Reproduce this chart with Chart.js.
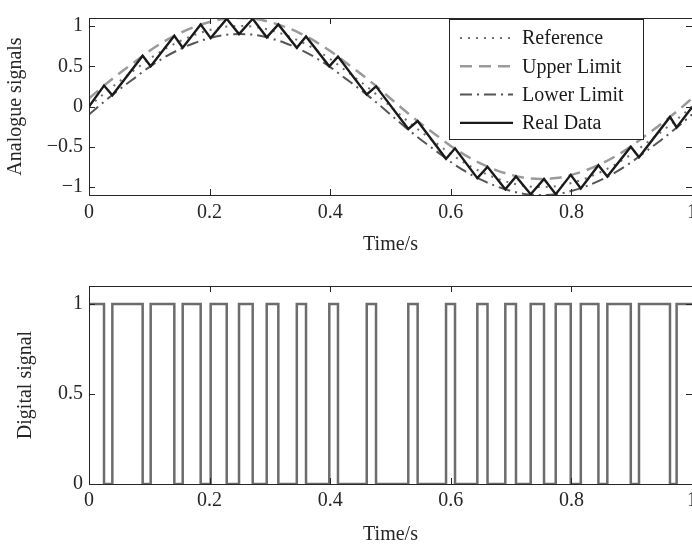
<!DOCTYPE html>
<html>
<head>
<meta charset="utf-8">
<title>Analogue signals / Digital signal</title>
<script src="https://cdn.jsdelivr.net/npm/chart.js@4.4.1/dist/chart.umd.min.js"></script>
<style>
  html, body { margin: 0; padding: 0; background: #fff; overflow: hidden; }
  #wrap { position: relative; width: 692px; height: 545px; overflow: hidden; background: #fff; }
  #chart-top { position: absolute; left: 0; top: 0; }
  #chart-bot { position: absolute; left: 0; top: 260px; }
</style>
</head>
<body>
<div id="wrap">
  <canvas id="chart-top" width="720" height="265"></canvas>
  <canvas id="chart-bot" width="720" height="300"></canvas>
</div>
<script>
// --------------------------- Datos ---------------------------
const xTicks = [0, 0.2, 0.4, 0.6, 0.8, 1];
const yTicksTop = [-1, -0.5, 0, 0.5, 1];
const yTicksBot = [0, 0.5, 1];

// curvas suaves (tiempo en s)
const curveT = [0, 0.025, 0.05, 0.075, 0.1, 0.125, 0.15, 0.175, 0.2, 0.225, 0.25,
  0.275, 0.3, 0.325, 0.35, 0.375, 0.4, 0.425, 0.45, 0.475, 0.5,
  0.525, 0.55, 0.575, 0.6, 0.625, 0.65, 0.675, 0.7, 0.725, 0.75,
  0.775, 0.8, 0.825, 0.85, 0.875, 0.9, 0.925, 0.95, 0.975, 1];
const referenceY = [0, 0.16, 0.31, 0.45, 0.59, 0.71, 0.81, 0.89, 0.95, 0.99, 1.00,
  0.99, 0.95, 0.89, 0.81, 0.71, 0.59, 0.45, 0.31, 0.16, 0,
  -0.16, -0.31, -0.45, -0.59, -0.71, -0.81, -0.89, -0.95, -0.99, -1.00,
  -0.99, -0.95, -0.89, -0.81, -0.71, -0.59, -0.45, -0.31, -0.16, 0];
const upperY = [0.10, 0.26, 0.41, 0.55, 0.69, 0.81, 0.91, 0.99, 1.05, 1.09, 1.10,
  1.09, 1.05, 0.99, 0.91, 0.81, 0.69, 0.55, 0.41, 0.26, 0.10,
  -0.06, -0.21, -0.35, -0.49, -0.61, -0.71, -0.79, -0.85, -0.89, -0.90,
  -0.89, -0.85, -0.79, -0.71, -0.61, -0.49, -0.35, -0.21, -0.06, 0.10];
const lowerY = [-0.10, 0.06, 0.21, 0.35, 0.49, 0.61, 0.71, 0.79, 0.85, 0.89, 0.90,
  0.89, 0.85, 0.79, 0.71, 0.61, 0.49, 0.35, 0.21, 0.06, -0.10,
  -0.26, -0.41, -0.55, -0.69, -0.81, -0.91, -0.99, -1.05, -1.09, -1.10,
  -1.09, -1.05, -0.99, -0.91, -0.81, -0.69, -0.55, -0.41, -0.26, -0.10];

// instantes de conmutación (vértices de la señal real / flancos digitales)
const switchT = [0, 0.0249, 0.0387, 0.0890, 0.1023, 0.1415, 0.1554, 0.1852, 0.2018, 0.2284,
  0.2488, 0.2715, 0.2947, 0.3140, 0.3446, 0.3599, 0.3985, 0.4129, 0.4606, 0.4760,
  0.5295, 0.5450, 0.5921, 0.6070, 0.6440, 0.6609, 0.6904, 0.7081, 0.7325, 0.7546,
  0.7740, 0.7989, 0.8156, 0.8448, 0.8596, 0.8985, 0.9121, 0.9635, 0.9745, 1.0];
const realY = [0, 0.26, 0.14, 0.63, 0.50, 0.88, 0.73, 1.02, 0.85, 1.09,
  0.90, 1.09, 0.86, 1.02, 0.73, 0.87, 0.50, 0.62, 0.15, 0.25,
  -0.28, -0.18, -0.65, -0.52, -0.89, -0.75, -1.03, -0.87, -1.09, -0.90,
  -1.09, -0.85, -1.02, -0.73, -0.87, -0.50, -0.63, -0.13, -0.26, -0.01];
const digitalY = [1, 0, 1, 0, 1, 0, 1, 0, 1, 0,
  1, 0, 1, 0, 1, 0, 1, 0, 1, 0,
  1, 0, 1, 0, 1, 0, 1, 0, 1, 0,
  1, 0, 1, 0, 1, 0, 1, 0, 1, 1];

// --------------------------- Estilo ---------------------------
Chart.defaults.font.family = '"Liberation Serif", "Times New Roman", serif';
Chart.defaults.font.size = 20;
Chart.defaults.color = '#262626';

const AXIS = '#262626';
const pts = (xs, ys) => xs.map((x, i) => ({ x: x, y: ys[i] }));
const fmt = (v) => String(v).replace('-', '\u2212');

// marco + ticks hacia dentro (estilo MATLAB)
const framePlugin = {
  id: 'frame',
  afterDatasetsDraw(chart) {
    const { ctx, chartArea: a, scales } = chart;
    const len = 6;
    ctx.save();
    ctx.strokeStyle = AXIS;
    ctx.lineWidth = 1;
    ctx.strokeRect(a.left + 0.5, a.top + 0.5, a.right - a.left, a.bottom - a.top);
    ctx.beginPath();
    scales.x.ticks.forEach(t => {
      const px = Math.round(scales.x.getPixelForValue(t.value)) + 0.5;
      ctx.moveTo(px, a.bottom); ctx.lineTo(px, a.bottom - len);
      ctx.moveTo(px, a.top); ctx.lineTo(px, a.top + len);
    });
    scales.y.ticks.forEach(t => {
      const py = Math.round(scales.y.getPixelForValue(t.value)) + 0.5;
      ctx.moveTo(a.left, py); ctx.lineTo(a.left + len, py);
      ctx.moveTo(a.right, py); ctx.lineTo(a.right - len, py);
    });
    ctx.stroke();
    ctx.restore();
  }
};

// leyenda dentro del área, arriba a la derecha
const boxLegend = {
  id: 'boxLegend',
  afterDraw(chart) {
    const { ctx, chartArea: a } = chart;
    const w = 194, h = 120;
    const x0 = a.right - 49 - w;
    const y0 = a.top + 1;
    ctx.save();
    ctx.fillStyle = '#fff';
    ctx.fillRect(x0, y0, w, h);
    ctx.strokeStyle = AXIS;
    ctx.lineWidth = 1;
    ctx.strokeRect(x0 + 0.5, y0 + 0.5, w, h);
    ctx.font = '20px "Liberation Serif", serif';
    ctx.textBaseline = 'middle';
    ctx.textAlign = 'left';
    chart.data.datasets.forEach((ds, i) => {
      const y = y0 + 19 + i * 28.3;
      ctx.beginPath();
      ctx.strokeStyle = ds.borderColor;
      ctx.lineWidth = ds.borderWidth;
      ctx.setLineDash(ds.borderDash || []);
      ctx.moveTo(x0 + 11, y);
      ctx.lineTo(x0 + 64, y);
      ctx.stroke();
      ctx.setLineDash([]);
      ctx.fillStyle = '#1a1a1a';
      ctx.fillText(ds.label, x0 + 73, y + 1);
    });
    ctx.restore();
  }
};

function xScale(height, titlePad, tickPad) {
  return {
    type: 'linear', min: 0, max: 1,
    afterBuildTicks: (s) => { s.ticks = xTicks.map(v => ({ value: v })); },
    afterFit: (s) => { s.height = height; },
    grid: { display: false, drawTicks: false },
    border: { display: false },
    ticks: { padding: tickPad, maxRotation: 0, autoSkip: false, callback: fmt },
    title: { display: true, text: 'Time/s', padding: { top: 0, bottom: titlePad } }
  };
}

function yScale(min, max, tickList, title, titlePad) {
  return {
    min: min, max: max,
    afterBuildTicks: (s) => { s.ticks = tickList.map(v => ({ value: v })); },
    afterFit: (s) => { s.width = 89; },
    grid: { display: false, drawTicks: false },
    border: { display: false },
    ticks: { padding: 6, callback: fmt },
    title: { display: true, text: title, padding: { top: titlePad, bottom: 0 } }
  };
}

// --------------------------- Gráfico superior ---------------------------
new Chart(document.getElementById('chart-top'), {
  type: 'line',
  data: {
    datasets: [
      { label: 'Reference', data: pts(curveT, referenceY), borderColor: '#6f6f6f', borderWidth: 2,
        borderDash: [2, 6], cubicInterpolationMode: 'monotone', order: 3 },
      { label: 'Upper Limit', data: pts(curveT, upperY), borderColor: '#9a9a9a', borderWidth: 2.5,
        borderDash: [12, 7], cubicInterpolationMode: 'monotone', order: 2 },
      { label: 'Lower Limit', data: pts(curveT, lowerY), borderColor: '#555555', borderWidth: 2,
        borderDash: [12, 5, 2, 5], cubicInterpolationMode: 'monotone', order: 1 },
      { label: 'Real Data', data: pts(switchT, realY), borderColor: '#1a1a1a', borderWidth: 2.4,
        tension: 0, order: 0 }
    ]
  },
  options: {
    responsive: false,
    animation: false,
    elements: { point: { radius: 0 } },
    layout: { padding: { top: 7, right: 28, left: 0, bottom: 0 } },
    plugins: { legend: { display: false }, tooltip: { enabled: false } },
    scales: {
      x: xScale(70, 8, 6),
      y: yScale(-1.1, 1.1, yTicksTop, 'Analogue signals', 4)
    }
  },
  plugins: [framePlugin, boxLegend]
});

// --------------------------- Gráfico inferior ---------------------------
// 'before': el valor de cada punto se mantiene hasta el siguiente instante
new Chart(document.getElementById('chart-bot'), {
  type: 'line',
  data: {
    datasets: [
      { label: 'Digital signal', data: pts(switchT, digitalY), borderColor: '#6c6c6c', borderWidth: 2.5,
        stepped: 'before' }
    ]
  },
  options: {
    responsive: false,
    animation: false,
    elements: { point: { radius: 0 } },
    layout: { padding: { top: 26, right: 28, left: 0, bottom: 0 } },
    plugins: { legend: { display: false }, tooltip: { enabled: false } },
    scales: {
      x: xScale(76, 13, 5),
      y: yScale(0, 1.1, yTicksBot, 'Digital signal', 14)
    }
  },
  plugins: [framePlugin]
});
</script>
</body>
</html>
